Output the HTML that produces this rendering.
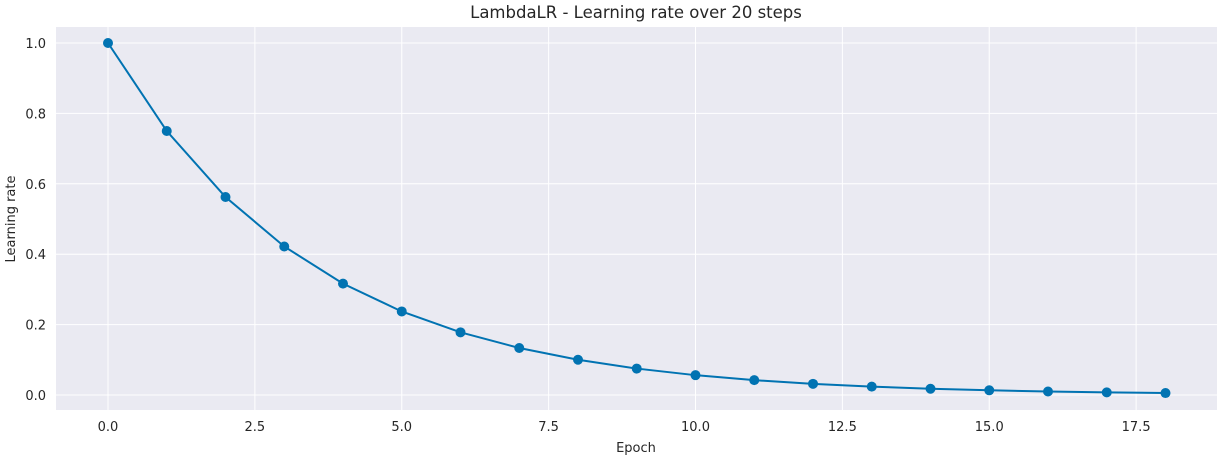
<!DOCTYPE html>
<html><head><meta charset="utf-8"><style>
body{margin:0;background:#fff;font-family:"Liberation Sans","DejaVu Sans",sans-serif;}
svg text{font-family:"DejaVu Sans","Liberation Sans",sans-serif;fill:#262626;}
</style></head><body>
<svg id="chart" width="1226" height="457">
<rect x="56" y="27" width="1161" height="383" fill="#eaeaf2"/>
<g id="grid"></g><g id="ticks"></g><g id="series"></g>
<text x="636" y="18" text-anchor="middle" font-size="16.5">LambdaLR - Learning rate over 20 steps</text>
<text x="636" y="452" text-anchor="middle" font-size="13">Epoch</text>
<text x="15" y="219" text-anchor="middle" font-size="13" transform="rotate(-90 15 219)">Learning rate</text>
</svg>
<script>
const epochs=[0,1,2,3,4,5,6,7,8,9,10,11,12,13,14,15,16,17,18];
const lrValues=[1,0.75,0.5625,0.4219,0.3164,0.2373,0.178,0.1335,0.1001,0.0751,0.0563,0.0422,0.0317,0.0238,0.0178,0.0134,0.01,0.0075,0.0056];
const xTicks=[0,2.5,5,7.5,10,12.5,15,17.5];
const xTickLabels=["0.0","2.5","5.0","7.5","10.0","12.5","15.0","17.5"];
const yTicks=[0,0.2,0.4,0.6,0.8,1.0];
const yTickLabels=["0.0","0.2","0.4","0.6","0.8","1.0"];
const NS="http://www.w3.org/2000/svg";
const xs=v=>108+v*58.75, ys=v=>395-v*352;
function mk(t,a,p){const e=document.createElementNS(NS,t);for(const k in a)e.setAttribute(k,a[k]);p.appendChild(e);return e;}
const grid=document.getElementById('grid'),ticks=document.getElementById('ticks'),ser=document.getElementById('series');
xTicks.forEach((v,i)=>{
 const l=mk('line',{x1:xs(v),x2:xs(v),y1:27,y2:410,stroke:'#fff','stroke-width':1},grid);
 
 
 const t=mk('text',{x:xs(v),y:431,'text-anchor':'middle','font-size':13},ticks);t.textContent=xTickLabels[i];
 
 
});
yTicks.forEach((v,i)=>{
 const l=mk('line',{x1:56,x2:1217,y1:ys(v),y2:ys(v),stroke:'#fff','stroke-width':1},grid);
 
 
 const t=mk('text',{x:46,y:ys(v)+5,'text-anchor':'end','font-size':13},ticks);t.textContent=yTickLabels[i];
 
 
});
const pl=mk('polyline',{points:epochs.map((e,i)=>xs(e)+','+ys(lrValues[i])).join(' '),fill:'none',stroke:'#0173b2','stroke-width':2},ser);


epochs.forEach((e,i)=>{
 const c=mk('circle',{cx:xs(e),cy:ys(lrValues[i]),r:5,fill:'#0173b2'},ser);
 
 
});
</script>
</body></html>
